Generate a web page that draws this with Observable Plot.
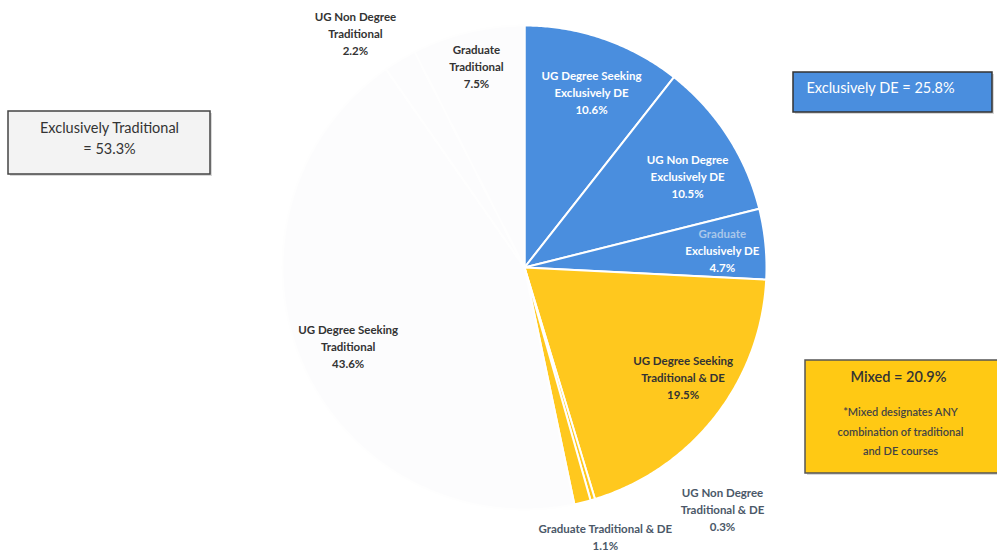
<!DOCTYPE html>
<html>
<head>
<meta charset="utf-8">
<script src="https://cdn.jsdelivr.net/npm/d3@7"></script>
<script src="https://cdn.jsdelivr.net/npm/@observablehq/plot@0.6"></script>
<style>
  html, body { margin: 0; padding: 0; background: #fff; }
  #chart svg { display: block; }
</style>
</head>
<body>
<div id="chart"></div>
<script>
// ---- data ----
const categories = [
  "UG Degree Seeking Exclusively DE",
  "UG Non Degree Exclusively DE",
  "Graduate Exclusively DE",
  "UG Degree Seeking Traditional & DE",
  "UG Non Degree Traditional & DE",
  "Graduate Traditional & DE",
  "UG Degree Seeking Traditional",
  "UG Non Degree Traditional",
  "Graduate Traditional"
];
const values = [10.6, 10.5, 4.7, 19.5, 0.3, 1.1, 43.6, 2.2, 7.5];
const groups = [
  "Exclusively DE", "Exclusively DE", "Exclusively DE",
  "Mixed", "Mixed", "Mixed",
  "Exclusively Traditional", "Exclusively Traditional", "Exclusively Traditional"
];
const labelLines = [
  ["UG Degree Seeking", "Exclusively DE"],
  ["UG Non Degree", "Exclusively DE"],
  ["Graduate", "Exclusively DE"],
  ["UG Degree Seeking", "Traditional & DE"],
  ["UG Non Degree", "Traditional & DE"],
  ["Graduate Traditional & DE"],
  ["UG Degree Seeking", "Traditional"],
  ["UG Non Degree", "Traditional"],
  ["Graduate", "Traditional"]
];
const groupNames = ["Exclusively DE", "Mixed", "Exclusively Traditional"];
const groupTotals = [25.8, 20.9, 53.3];
const mixedNote = ["*Mixed designates ANY", "combination of traditional", "and DE courses"];

// ---- layout (pixels -> unit-radius coordinates) ----
const W = 997, H = 555, CX = 524, CY = 267, R = 242;
const X = px => (px - CX) / R;
const Y = py => (CY - py) / R;
const font = "Lato, 'Open Sans', sans-serif";

// pie geometry via d3.pie (clockwise from 12 o'clock)
const arcs = d3.pie().sort(null).value(d => d)(values);
const polys = [];
arcs.forEach((a, i) => {
  const n = Math.max(2, Math.ceil((a.endAngle - a.startAngle) / (Math.PI / 360)));
  polys.push({name: categories[i], group: groups[i], x: 0, y: 0});
  for (let k = 0; k <= n; k++) {
    const t = a.startAngle + (a.endAngle - a.startAngle) * k / n;
    polys.push({name: categories[i], group: groups[i], x: Math.sin(t), y: Math.cos(t)});
  }
  polys.push({name: categories[i], group: groups[i], x: 0, y: 0});
});

// label placement: [radius factor, angle offset (deg)] relative to slice mid-angle
const placement = [[0.77, 2], [0.77, 4], [0.82, 1], [0.80, -3], [1.295, -22.8], [1.165, -2.8], [0.80, -1], [1.19, -5], [0.85, 0]];
const textColor = [
  ["#fff", "#fff"], ["#fff", "#fff"], ["#a9c7ea", "#fff"], ["#333", "#333"],
  ["#4b5868", "#4b5868"], ["#4b5868"], ["#333", "#333"], ["#333", "#333"], ["#333", "#333"]
];
const rows = [];
arcs.forEach((a, i) => {
  const [rf, off] = placement[i];
  const mid = (a.startAngle + a.endAngle) / 2 + off * Math.PI / 180;
  const cx = Math.sin(mid) * rf, cy = Math.cos(mid) * rf;
  const lines = [...labelLines[i], values[i].toFixed(1) + "%"];
  const lh = 17 / R;
  lines.forEach((t, j) => {
    const col = j < textColor[i].length ? textColor[i][j] : textColor[i][textColor[i].length - 1];
    rows.push({x: cx, y: cy - (j - (lines.length - 1) / 2) * lh, text: t, color: col});
  });
});
const colors = [...new Set(rows.map(r => r.color))];

// annotation boxes
const boxes = [
  {x1: X(8), x2: X(210), y1: Y(111), y2: Y(174), fill: "#f3f3f3", stroke: "#444"},
  {x1: X(793), x2: X(992), y1: Y(72), y2: Y(112), fill: "#4a8ede", stroke: "#333"},
  {x1: X(805), x2: X(1001), y1: Y(360), y2: Y(473), fill: "#ffc914", stroke: "#555"}
];
const shadows = boxes.map(b => ({...b, x1: b.x1 + 2 / R, x2: b.x2 + 2 / R, y1: b.y1 - 2 / R, y2: b.y2 - 2 / R}));

const chart = Plot.plot({
  width: W, height: H,
  marginTop: 0, marginRight: 0, marginBottom: 0, marginLeft: 0,
  x: {domain: [X(0), X(W)], axis: null},
  y: {domain: [Y(H), Y(0)], axis: null},
  color: {domain: groupNames, range: ["#4a8ede", "#ffc81e", "#fcfcfd"]},
  style: {fontFamily: font, background: "#fff"},
  marks: [
    Plot.line(polys, {x: "x", y: "y", z: "name", fill: "group", stroke: d => d.group === "Exclusively Traditional" ? "#fefefe" : "#fff", strokeWidth: 2, strokeLinejoin: "round"}),
    ...colors.map(c => Plot.text(rows.filter(r => r.color === c), {
      x: "x", y: "y", text: "text", fill: c, fontWeight: "bold", fontSize: 11.5
    })),
    Plot.rect(shadows, {x1: "x1", x2: "x2", y1: "y1", y2: "y2", fill: "#d8d8d8"}),
    Plot.rect(boxes, {x1: "x1", x2: "x2", y1: "y1", y2: "y2", fill: d => d.fill, stroke: d => d.stroke, strokeWidth: 1.5}),
    Plot.text([{x: X(109), y: Y(128), t: "Exclusively Traditional"}, {x: X(109), y: Y(149), t: "= " + groupTotals[2].toFixed(1) + "%"}],
      {x: "x", y: "y", text: "t", fill: "#333", fontSize: 14.5}),
    Plot.text([{x: X(806), y: Y(88), t: "Exclusively DE = " + groupTotals[0].toFixed(1) + "%"}],
      {x: "x", y: "y", text: "t", fill: "#fff", fontSize: 14.5, textAnchor: "start"}),
    Plot.text([{x: X(898), y: Y(377), t: "Mixed = " + groupTotals[1].toFixed(1) + "%"}],
      {x: "x", y: "y", text: "t", fill: "#333", fontSize: 14.5, fontWeight: 600}),
    Plot.text(mixedNote.map((t, j) => ({x: X(900), y: Y(412 + j * 19.5), t})),
      {x: "x", y: "y", text: "t", fill: "#444", fontSize: 11, fontWeight: 600})
  ]
});
document.getElementById("chart").appendChild(chart);
</script>
</body>
</html>
